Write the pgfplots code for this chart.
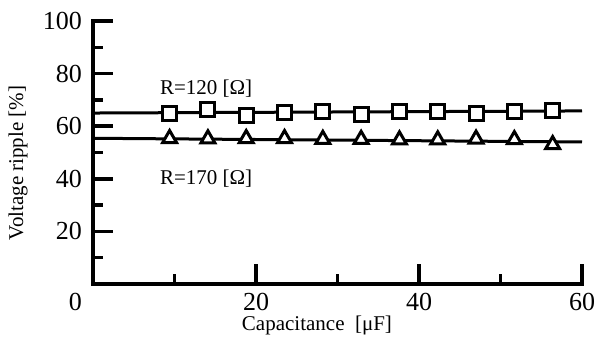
\documentclass[border=0pt]{standalone}
\usepackage{pgfplots}
\pgfplotsset{compat=1.18}
\usepackage{fontspec}
\setmainfont{Liberation Serif}
\begin{document}
\begin{tikzpicture}
\begin{axis}[
  scale only axis,
  width=489bp, height=263bp,
  xmin=0, xmax=60, ymin=0, ymax=100,
  axis lines=left,
  axis line style={-, line width=4bp, line cap=rect},
  clip=false,
  xtick={20,40,60}, minor xtick={10,30,50},
  ytick={20,40,60,80,100}, minor ytick={10,30,50,70,90},
  tick align=inside,
  major tick length=20bp, minor tick length=10bp,
  every tick/.style={black, line width=3.5bp},
  /pgf/number format/assume math mode=true,
  tick label style={font=\fontsize{26bp}{30bp}\selectfont, inner sep=0pt},
  xticklabel style={anchor=north, yshift=-9bp},
  yticklabel style={anchor=east, xshift=-11bp},
  xlabel={Capacitance~~[μF]},
  ylabel={Voltage ripple [\%]},
  label style={font=\fontsize{21bp}{24bp}\selectfont},
  xlabel style={at={(axis description cs:0.458,-0.177)}, anchor=base, inner sep=0pt},
  ylabel style={at={(axis description cs:-0.153,0.46)}, anchor=center, rotate=0},
]
% fitted lines
\addplot[black, line width=3bp, no marks] coordinates {(0,65.0) (60,65.8)};
\addplot[black, line width=3bp, no marks] coordinates {(0,55.4) (60,54.0)};
% R=120
\addplot[only marks, mark=square*, mark size=7bp,
  mark options={draw=black, fill=white, line width=3bp}] coordinates {
(9.4,64.7) (14.1,66.2) (18.8,63.9) (23.5,65.1) (28.2,65.5) (32.9,64.4)
(37.6,65.6) (42.3,65.7) (47.0,65.0) (51.7,65.6) (56.4,66.0)};
% R=170
\addplot[only marks, mark=triangle*, mark size=8bp,
  mark options={draw=black, fill=white, line width=3bp}] coordinates {
(9.4,55.3) (14.1,55.2) (18.8,55.3) (23.5,55.3) (28.2,55.0) (32.9,55.0)
(37.6,54.8) (42.3,54.8) (47.0,55.1) (51.7,54.9) (56.4,53.0)};
\node[anchor=base west, inner sep=0pt, font=\fontsize{21bp}{24bp}\selectfont] at (axis cs:8.2,72.1) {R=120 [Ω]};
\node[anchor=base west, inner sep=0pt, font=\fontsize{21bp}{24bp}\selectfont] at (axis cs:8.2,37.9) {R=170 [Ω]};
\node[anchor=north east, inner sep=0pt, font=\fontsize{26bp}{30bp}\selectfont, xshift=-11bp, yshift=-9bp] at (axis cs:0,0) {0};
\coordinate (bbl) at (rel axis cs:-0.1902,-0.2015);
\coordinate (btr) at (rel axis cs:1.0266,1.0798);
\end{axis}
\pgfresetboundingbox
\path[use as bounding box] (bbl) rectangle (btr);
\end{tikzpicture}
\end{document}
